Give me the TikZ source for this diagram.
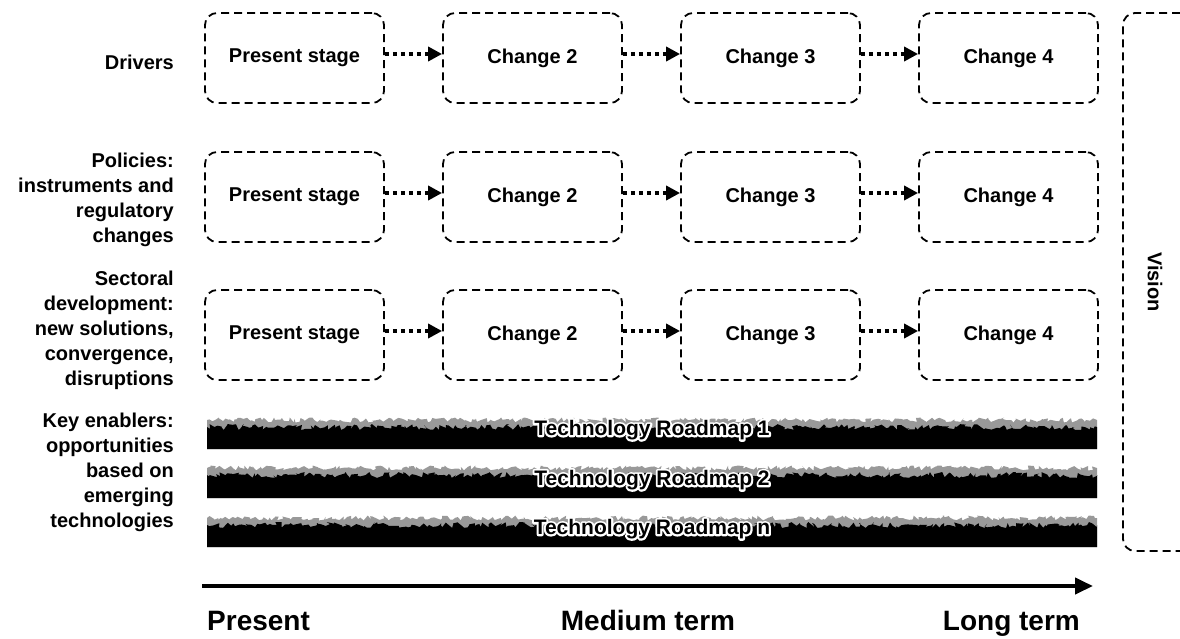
\documentclass[tikz,border=0pt]{standalone}
\usepackage{fontspec}
\setmainfont{Liberation Sans}
\usetikzlibrary{arrows.meta,calc,decorations.pathmorphing}
\newcommand{\halotext}[1]{\rlap{\special{pdf:literal direct 2 Tr 1 1 1 RG 4 w 1 j}#1\special{pdf:literal direct 0 Tr 0 G}}#1}
\begin{document}
\begin{tikzpicture}[x=1pt,y=-1pt,
  font=\bfseries\fontsize{20}{25}\selectfont,
  stagebox/.style={draw, dash pattern=on 8pt off 5pt, line width=1.8pt,
    rounded corners=12pt, minimum width=179pt, minimum height=90pt, inner sep=0pt},
  rowlabel/.style={anchor=east, align=right, inner sep=0pt},
  flow/.style={line width=4.5pt, dash pattern=on 4.5pt off 3.5pt,
    -{Triangle[length=14pt,width=14pt]}},
  timeaxis/.style={line width=4pt, -{Triangle[length=18pt,width=16pt]}},
  timelabel/.style={font=\bfseries\fontsize{28}{32}\selectfont, inner sep=0pt},
  barlabel/.style={inner sep=0pt, font=\bfseries\fontsize{21}{25}\selectfont},
  visionline/.style={line width=1.8pt, dash pattern=on 8pt off 5pt, rounded corners=12pt}]
\useasboundingbox (0,0) rectangle (1180,638);
\pgfmathsetseed{7}

% row labels
\node[rowlabel] (l1) at (174,62) {Drivers};
\node[rowlabel] (l2) at (174,200) {Policies:\\instruments and\\regulatory\\changes};
\node[rowlabel] (l3) at (174,330) {Sectoral\\development:\\new solutions,\\convergence,\\disruptions};
\node[rowlabel] (l4) at (174,472) {Key enablers:\\opportunities\\based on\\emerging\\technologies};

% stage boxes
\foreach \r/\y in {1/58,2/197,3/335}{
  \node[stagebox] (b\r1) at (294.5,\y) {Present stage};
  \node[stagebox] (b\r2) at (532.5,\y) {Change 2};
  \node[stagebox] (b\r3) at (770.5,\y) {Change 3};
  \node[stagebox] (b\r4) at (1008.5,\y) {Change 4};
  \draw[flow] ($(b\r1.east)+(0,-4)$) -- ($(b\r2.west)+(0,-4)$);
  \draw[flow] ($(b\r2.east)+(0,-4)$) -- ($(b\r3.west)+(0,-4)$);
  \draw[flow] ($(b\r3.east)+(0,-4)$) -- ($(b\r4.west)+(0,-4)$);
}

% technology roadmap bars
\foreach \i/\t/\b/\c/\lab in {1/418/449/430/1,2/466/498/480/2,3/516/547/529/n}{
  \fill[black!40] (207,\b) -- (207,\t+2)
     decorate[decoration={random steps,segment length=2.5pt,amplitude=2.5pt}]{-- (1097,\t+2)}
     -- (1097,\b) -- cycle;
  \fill[black] (207,\b) -- (207,\t+9)
     decorate[decoration={random steps,segment length=2.5pt,amplitude=3pt}]{-- (1097,\t+9)}
     -- (1097,\b) -- cycle;
  \node[barlabel] (tr\i) at (652,\c) {\halotext{Technology Roadmap \lab}};
}

% vision bracket
\coordinate (v1) at (1180,13);
\coordinate (v2) at (1123,13);
\coordinate (v3) at (1123,551);
\coordinate (v4) at (1180,551);
\draw[visionline] (v1) -- (v2) -- (v3) -- (v4);
\node[rotate=-90, inner sep=0pt] (vision) at (1155,282) {Vision};

% time axis
\coordinate (tstart) at (202,586);
\coordinate (tend) at (1093,586);
\draw[timeaxis] (tstart) -- (tend);
\node[timelabel, anchor=base west] (present) at (207,630) {Present};
\node[timelabel, anchor=base] (medium) at (648,630) {Medium term};
\node[timelabel, anchor=base east] (long) at (1080,630) {Long term};
\end{tikzpicture}
\end{document}
